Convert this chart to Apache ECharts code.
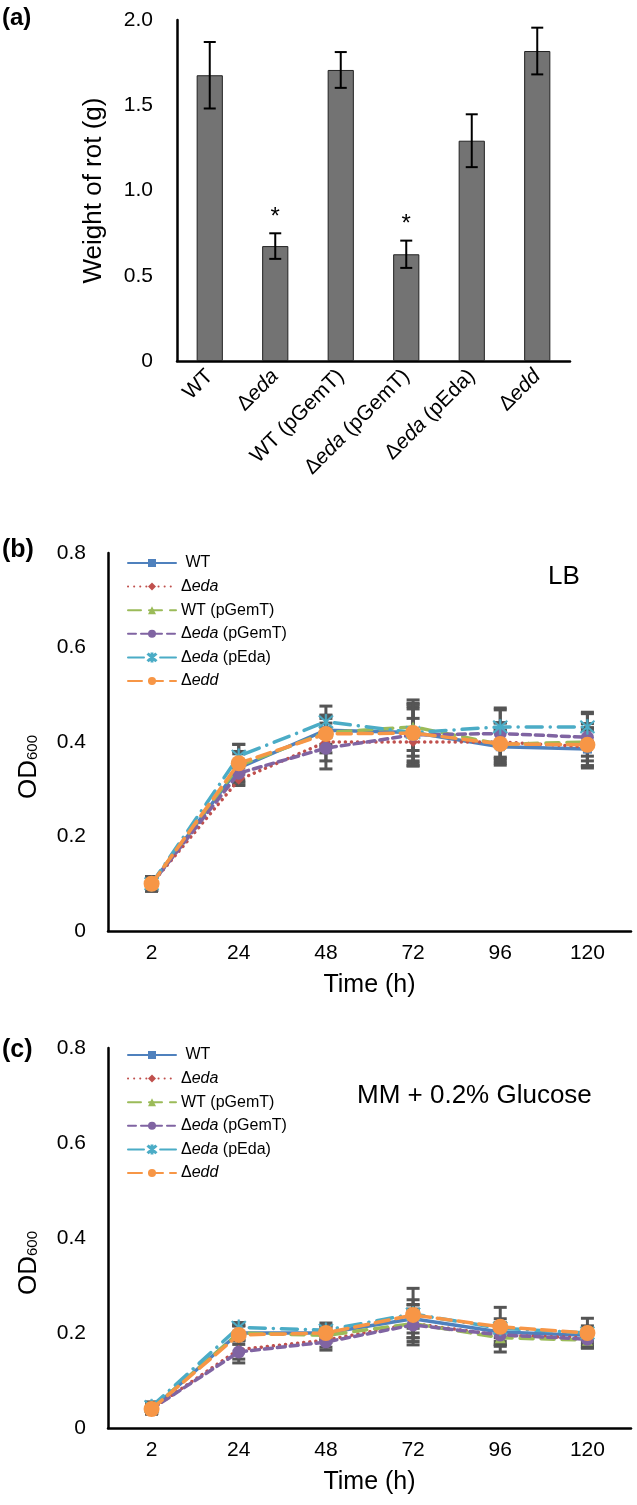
<!DOCTYPE html>
<html>
<head>
<meta charset="utf-8">
<script src="https://cdn.jsdelivr.net/npm/echarts@6/dist/echarts.min.js"></script>
<style>
  html, body { margin: 0; padding: 0; background: #fff; }
  #main { width: 637px; height: 1505px; }
</style>
</head>
<body>
<div id="main"></div>
<script>
// strains / categories
var strains = ['WT', 'Δeda', 'WT (pGemT)', 'Δeda (pGemT)', 'Δeda (pEda)', 'Δedd'];
var hours = ['2', '24', '48', '72', '96', '120'];

// (a) weight of rot
var rotWeight = [1.676, 0.674, 1.707, 0.626, 1.292, 1.818];
var rotErr = [0.195, 0.075, 0.105, 0.08, 0.155, 0.137];
var rotStars = ['', '*', '', '*', '', ''];

// (b) LB growth, OD600
var lbWT = [0.10, 0.345, 0.425, 0.42, 0.39, 0.385];
var lbEda = [0.10, 0.32, 0.40, 0.40, 0.40, 0.39];
var lbWTp = [0.10, 0.35, 0.42, 0.432, 0.395, 0.40];
var lbEdaP = [0.10, 0.334, 0.387, 0.415, 0.418, 0.41];
var lbEdaE = [0.10, 0.37, 0.443, 0.42, 0.432, 0.432];
var lbEdd = [0.10, 0.355, 0.417, 0.419, 0.396, 0.394];
var lbWTErr = [0.015, 0.03, 0.03, 0.06, 0.035, 0.04];
var lbEdaErr = [0.015, 0.012, 0.04, 0.05, 0.04, 0.04];
var lbWTpErr = [0.015, 0.03, 0.03, 0.05, 0.03, 0.03];
var lbEdaPErr = [0.015, 0.025, 0.044, 0.06, 0.05, 0.05];
var lbEdaEErr = [0.015, 0.025, 0.033, 0.05, 0.04, 0.031];
var lbEddErr = [0.015, 0.04, 0.04, 0.07, 0.045, 0.045];

// (c) MM + 0.2% glucose, OD600
var mmWT = [0.04, 0.20, 0.20, 0.23, 0.202, 0.195];
var mmEda = [0.04, 0.165, 0.185, 0.22, 0.195, 0.19];
var mmWTp = [0.04, 0.20, 0.195, 0.22, 0.19, 0.185];
var mmEdaP = [0.04, 0.16, 0.181, 0.217, 0.196, 0.187];
var mmEdaE = [0.045, 0.212, 0.206, 0.24, 0.21, 0.20];
var mmEdd = [0.04, 0.196, 0.20, 0.238, 0.213, 0.20];
var mmWTErr = [0.01, 0.015, 0.015, 0.03, 0.02, 0.015];
var mmEdaErr = [0.01, 0.02, 0.015, 0.03, 0.02, 0.015];
var mmWTpErr = [0.01, 0.015, 0.015, 0.03, 0.03, 0.017];
var mmEdaPErr = [0.01, 0.023, 0.017, 0.042, 0.02, 0.015];
var mmEdaEErr = [0.01, 0.01, 0.015, 0.03, 0.02, 0.015];
var mmEddErr = [0.01, 0.02, 0.015, 0.056, 0.041, 0.031];

var lbMeans = [lbWT, lbEda, lbWTp, lbEdaP, lbEdaE, lbEdd];
var lbErrs = [lbWTErr, lbEdaErr, lbWTpErr, lbEdaPErr, lbEdaEErr, lbEddErr];
var mmMeans = [mmWT, mmEda, mmWTp, mmEdaP, mmEdaE, mmEdd];
var mmErrs = [mmWTErr, mmEdaErr, mmWTpErr, mmEdaPErr, mmEdaEErr, mmEddErr];

var font = 'Liberation Sans, Arial, sans-serif';
var colors = ['#4F81BD', '#C0504D', '#9BBB59', '#8064A2', '#4BACC6', '#F79646'];
var dashes = ['solid', [0.1, 6], [13, 8], [8, 5], [16, 8, 0.1, 8], [14, 7]];
var asterisk = 'path://M9,0L11,0L11,20L9,20Z M1.3,2.7L2.7,1.3L18.7,17.3L17.3,18.7Z M17.3,1.3L18.7,2.7L2.7,18.7L1.3,17.3Z';
var symbols = ['rect', 'diamond', 'triangle', 'circle', asterisk, 'circle'];
var symSizes = [9, 10, 11, 13, 15, 16];

function richName(name) {
    if (name.charAt(0) !== 'Δ') return '{n|' + name + '}';
    var sp = name.indexOf(' ');
    var word = sp < 0 ? name.slice(1) : name.slice(1, sp);
    var rest = sp < 0 ? '' : name.slice(sp);
    return '{n|Δ}{i|' + word + '}' + (rest ? '{n|' + rest + '}' : '');
}

function richStyle(size) {
    return {
        n: {fontFamily: font, fontSize: size, color: '#000'},
        i: {fontFamily: font, fontSize: size, color: '#000', fontStyle: 'italic'}
    };
}

function tickFmt(v) {
    return v === 0 ? '0' : v.toFixed(1);
}

// error bar renderer for the custom series
function errRender(capW, color, lw, stars) {
    return function (params, api) {
        var x = api.value(0);
        var lo = api.coord([x, api.value(1)]);
        var hi = api.coord([x, api.value(2)]);
        var h = capW / 2;
        var style = {stroke: color, lineWidth: lw};
        var kids = [
            {type: 'line', shape: {x1: lo[0], y1: lo[1], x2: hi[0], y2: hi[1]}, style: style},
            {type: 'line', shape: {x1: lo[0] - h, y1: lo[1], x2: lo[0] + h, y2: lo[1]}, style: style},
            {type: 'line', shape: {x1: hi[0] - h, y1: hi[1], x2: hi[0] + h, y2: hi[1]}, style: style}
        ];
        if (stars && stars[params.dataIndex]) {
            kids.push({
                type: 'text',
                style: {
                    text: stars[params.dataIndex], x: hi[0], y: hi[1] - 4,
                    align: 'center', verticalAlign: 'bottom',
                    font: '24px ' + font, fill: '#000'
                }
            });
        }
        return {type: 'group', children: kids};
    };
}

function errData(means, errs) {
    return means.map(function (m, i) {
        return [i, m - errs[i], m + errs[i]];
    });
}

var axisLine = {lineStyle: {color: '#000', width: 2.5}};
var axisTick = {inside: false, length: 8, lineStyle: {color: '#000', width: 2.5}};

function odYAxis(grid) {
    return {
        type: 'value', gridIndex: grid, min: 0, max: 0.8, interval: 0.2,
        axisLine: {show: true, lineStyle: axisLine.lineStyle}, axisTick: axisTick,
        splitLine: {show: false},
        axisLabel: {formatter: tickFmt, fontFamily: font, fontSize: 21, color: '#000', margin: 22},
        name: '{a|OD}{s|600}', nameLocation: 'middle', nameGap: 66, nameRotate: 90,
        nameTextStyle: {
            padding: [0, 50, 0, 0],
            rich: {
                a: {fontFamily: font, fontSize: 26, color: '#000'},
                s: {fontFamily: font, fontSize: 15, color: '#000', padding: [8, 0, 0, 0]}
            }
        }
    };
}

function hourXAxis(grid) {
    return {
        type: 'category', gridIndex: grid, data: hours, boundaryGap: true,
        axisLine: axisLine, axisTick: axisTick,
        axisLabel: {fontFamily: font, fontSize: 21, color: '#000', margin: 12},
        name: 'Time (h)', nameLocation: 'middle', nameGap: 42,
        nameTextStyle: {fontFamily: font, fontSize: 25, color: '#000'}
    };
}

function growthSeries(prefix, grid, means, errs) {
    var out = [];
    means.forEach(function (m, k) {
        out.push({
            name: 'err-' + prefix + k, type: 'custom', xAxisIndex: grid, yAxisIndex: grid,
            renderItem: errRender(13, '#555', 3), data: errData(m, errs[k]), z: 1,
            encode: {x: 0, y: [1, 2]}, silent: true
        });
    });
    means.forEach(function (m, k) {
        out.push({
            name: prefix + k, type: 'line', xAxisIndex: grid, yAxisIndex: grid,
            data: m, color: colors[k], symbol: symbols[k], symbolSize: symSizes[k],
            showAllSymbol: true, z: 2 + k,
            lineStyle: {color: colors[k], width: 3.5, type: dashes[k], cap: 'round'},
            itemStyle: {color: colors[k], borderColor: colors[k], borderWidth: k === 4 ? 0.5 : 0}
        });
    });
    return out;
}

function legendFor(prefix, top) {
    return {
        orient: 'vertical', left: 122, top: top, itemWidth: 48, itemHeight: 10, itemGap: 7.6,
        selectedMode: false,
        data: strains.map(function (s, k) { return prefix + k; }),
        lineStyle: {width: 2},
        formatter: function (name) {
            var k = +name.slice(1);
            return (k === 0 ? '{n| }' : '') + richName(strains[k]);
        },
        textStyle: {fontFamily: font, fontSize: 16, color: '#000', lineHeight: 16, rich: richStyle(16)}
    };
}

var chart = echarts.init(document.getElementById('main'));

var option = {
    animation: false,
    backgroundColor: '#fff',
    grid: [
        {left: 177, width: 393, top: 20, height: 341},
        {left: 108, width: 523, top: 553, height: 378},
        {left: 108, width: 523, top: 1048, height: 380}
    ],
    xAxis: [
        {
            type: 'category', gridIndex: 0, data: strains,
            axisLine: axisLine, axisTick: axisTick,
            axisLabel: {
                rotate: 45, margin: 12, interval: 0,
                formatter: function (v) { return richName(v); },
                rich: richStyle(21)
            }
        },
        hourXAxis(1),
        hourXAxis(2)
    ],
    yAxis: [
        {
            type: 'value', gridIndex: 0, min: 0, max: 2, interval: 0.5,
            axisLine: {show: true, lineStyle: axisLine.lineStyle}, axisTick: axisTick,
            splitLine: {show: false},
            axisLabel: {formatter: tickFmt, fontFamily: font, fontSize: 21, color: '#000', margin: 24},
            name: 'Weight of rot (g)', nameLocation: 'middle', nameGap: 70, nameRotate: 90,
            nameTextStyle: {fontFamily: font, fontSize: 26, color: '#000'}
        },
        odYAxis(1),
        odYAxis(2)
    ],
    legend: [legendFor('b', 550), legendFor('c', 1042)],
    graphic: [
        {type: 'text', left: 2, top: 6, style: {text: '(a)', font: 'bold 24px ' + font, fill: '#000'}},
        {type: 'text', left: 2, top: 538, style: {text: '(b)', font: 'bold 25px ' + font, fill: '#000'}},
        {type: 'text', left: 2, top: 1038, style: {text: '(c)', font: 'bold 25px ' + font, fill: '#000'}},
        {type: 'text', left: 548, top: 564, style: {text: 'LB', font: '26px ' + font, fill: '#000'}},
        {type: 'text', left: 357, top: 1083, style: {text: 'MM + 0.2% Glucose', font: '26px ' + font, fill: '#000'}}
    ],
    series: [
        {
            name: 'rot', type: 'bar', xAxisIndex: 0, yAxisIndex: 0, data: rotWeight,
            barWidth: '40%',
            itemStyle: {color: '#737373', borderColor: '#222', borderWidth: 1}
        },
        {
            name: 'rotErr', type: 'custom', xAxisIndex: 0, yAxisIndex: 0, z: 3,
            renderItem: errRender(12, '#000', 2, rotStars),
            data: errData(rotWeight, rotErr), encode: {x: 0, y: [1, 2]}
        }
    ].concat(growthSeries('b', 1, lbMeans, lbErrs), growthSeries('c', 2, mmMeans, mmErrs))
};

chart.setOption(option);
</script>
</body>
</html>
